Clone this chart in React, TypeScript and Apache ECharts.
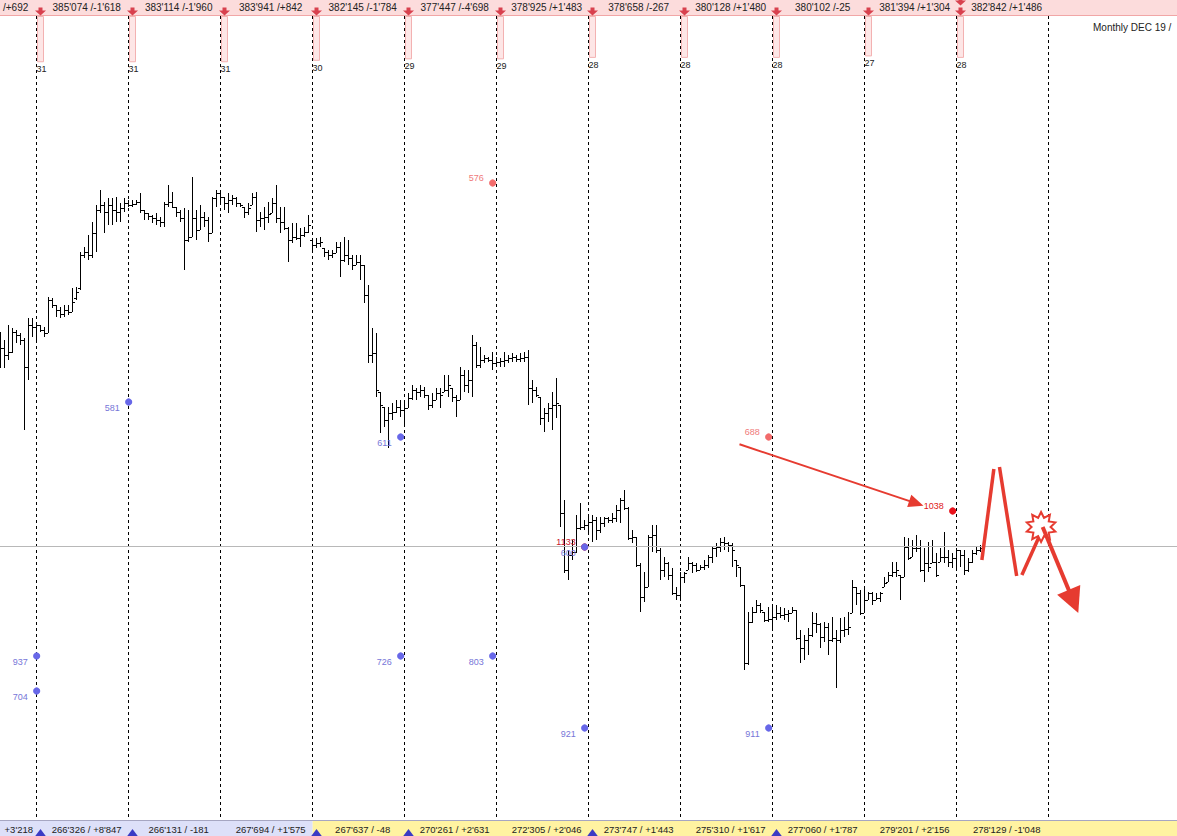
import React, { useEffect, useRef } from "react";
import * as echarts from "echarts";

// ---------- data ----------
// bar index of the first session of each month (last entry = boundary after last month)
const monthStart = [10, 33, 56, 79, 102, 125, 148, 171, 194, 217, 240, 263];
const monthDays = [31, 31, 31, 30, 29, 29, 28, 28, 28, 27, 28];
const monthMarkerCount = [1, 1, 1, 1, 1, 1, 1, 1, 1, 1, 2];
const topLead = "/+692";
const topLabels = [
  "385'074 /-1'618", "383'114 /-1'960", "383'941 /+842", "382'145 /-1'784",
  "377'447 /-4'698", "378'925 /+1'483", "378'658 /-267", "380'128 /+1'480",
  "380'102 /-25", "381'394 /+1'304", "382'842 /+1'486",
];
const bottomLead = "+3'218";
const bottomLabels = [
  "266'326 / +8'847", "266'131 / -181", "267'694 / +1'575", "267'637 / -48",
  "270'261 / +2'631", "272'305 / +2'046", "273'747 / +1'443", "275'310 / +1'617",
  "277'060 / +1'787", "279'201 / +2'156", "278'129 / -1'048",
];
const bottomTriangleMonths = [0, 1, 3, 4, 6, 8];
const yellowFromMonth = 3;
const lastPrice = 453.5;
const titleText = "Monthly DEC 19 /";

// daily bars: [open, high, low, close]
const ohlc = [
  [645,668,632,652],[652,660,632,645],[645,675,640,648],[648,672,647,668],[668,670,657,665],[665,667,655,660],
  [660,662,570,633],[633,682,620,675],[675,682,663,673],[673,677,658,675],[675,675,668,670],[670,673,663,667],
  [667,703,667,700],[700,702,692,695],[695,695,683,690],[690,693,682,686],[686,695,683,690],[690,695,685,688],
  [688,712,688,698],[702,713,700,708],[712,748,710,745],[745,753,742,748],[748,765,740,745],[745,778,742,767],
  [767,795,748,790],[790,810,787,795],[795,798,767,788],[788,802,775,795],[795,802,775,790],[790,803,778,788],
  [788,797,778,792],[792,802,788,797],[797,800,793,795],[795,800,793,796],[796,800,795,798],[798,807,787,790],
  [790,790,780,787],[787,787,780,784],[784,785,777,782],[782,787,775,780],[780,783,773,778],[778,798,773,796],
  [796,815,793,798],[798,808,792,793],[793,793,783,788],[788,790,778,782],[782,792,730,760],[760,790,758,763],
  [763,823,763,782],[782,790,760,770],[770,795,770,783],[783,788,773,780],[780,783,758,767],[767,803,767,802],
  [802,810,793,807],[807,808,795,803],[803,803,790,797],[797,807,787,800],[800,805,795,802],[802,803,793,797],
  [797,797,793,795],[793,793,782,788],[788,797,785,792],[795,807,795,803],[803,808,768,780],[780,788,773,782],
  [782,793,770,783],[783,798,777,786],[787,802,787,797],[797,815,777,782],[782,793,767,778],[778,793,770,772],
  [772,773,738,760],[760,777,757,763],[763,777,760,762],[762,772,753,765],[765,773,763,768],[768,785,767,775],
  [760,760,748,755],[755,762,752,757],[757,763,753,758],[752,752,743,748],[748,750,740,745],[745,750,742,747],
  [747,758,747,753],[753,758,723,740],[740,763,738,745],[745,760,735,742],[742,745,730,735],[735,745,735,738],
  [738,745,720,735],[735,735,697,705],[705,715,637,645],[645,672,637,647],[647,667,603,610],[608,608,567,595],
  [593,593,573,580],[580,593,552,587],[587,597,580,588],[588,600,587,593],[593,600,583,590],[590,597,575,592],
  [592,607,592,602],[602,615,600,610],[610,612,600,608],[608,615,603,610],[610,613,602,605],[605,605,590,595],
  [595,607,592,600],[600,612,600,607],[607,612,592,605],[608,625,608,610],[610,625,603,615],[612,612,598,603],
  [603,605,583,600],[600,633,600,625],[625,630,608,615],[615,630,607,620],[620,665,603,655],[655,658,632,635],
  [635,653,632,640],[640,645,637,642],[642,643,638,640],[640,648,630,637],[637,643,633,638],[638,642,633,639],
  [639,648,633,640],[640,645,637,642],[642,647,638,643],[643,645,638,641],[641,647,638,642],[642,648,638,643],
  [643,650,595,612],[612,620,597,610],[610,613,603,605],[603,603,575,582],[582,592,568,587],[587,597,578,592],
  [592,608,570,595],[595,622,582,597],[595,595,473,487],[487,500,427,430],[430,450,420,445],[445,460,440,448],
  [448,485,447,472],[472,497,470,473],[473,480,470,475],[475,483,467,478],[478,485,458,480],[480,483,460,470],
  [470,483,467,477],[477,483,473,482],[482,483,477,480],[480,487,477,482],[482,495,478,490],[490,502,477,500],
  [500,510,490,492],[492,493,460,462],[462,470,457,463],[463,463,433,435],[435,437,388,403],[403,428,398,413],
  [413,465,413,463],[463,475,448,465],[465,475,447,450],[450,452,420,430],[430,443,423,437],[437,438,420,425],
  [425,432,405,407],[407,413,400,405],[405,428,402,423],[423,428,417,427],[430,443,430,437],[437,438,427,435],
  [435,437,428,430],[430,435,430,433],[433,440,430,435],[435,445,432,443],[443,453,437,452],[452,457,443,453],
  [453,462,448,458],[458,463,450,457],[457,458,448,455],[455,457,433,450],[440,440,423,435],[433,433,413,415],
  [415,415,330,337],[337,388,335,378],[378,393,377,388],[388,400,387,395],[395,397,387,390],[388,388,378,380],
  [380,393,378,381],[381,395,370,383],[383,395,380,387],[387,393,382,385],[385,392,380,386],[386,390,378,387],
  [387,393,387,390],[390,390,360,362],[362,370,337,352],[352,365,340,360],[360,372,345,365],[365,388,363,377],
  [377,387,367,376],[376,377,352,363],[363,378,358,373],[373,377,345,360],[360,383,358,362],[362,370,312,360],
  [360,382,357,370],[370,383,363,371],[371,388,365,373],[387,420,387,413],[413,413,395,407],[407,410,385,387],
  [387,413,387,400],[400,408,400,407],[407,408,395,400],[400,407,400,402],[402,408,398,407],[413,423,413,417],
  [418,428,418,425],[425,438,423,428],[428,438,423,430],[425,425,400,423],[423,463,423,453],[453,462,440,442],
  [443,460,443,452],[452,465,448,452],[452,460,428,430],[430,452,418,437],[437,458,428,433],[437,460,437,438],
  [438,447,423,425],[438,452,438,443],[443,468,437,443],[443,450,433,438],[438,447,432,442],[442,452,432,450],
  [450,450,433,445],[445,450,425,430],[430,442,428,438],[438,450,437,447],[447,453,445,450],[450,455,448,452],
];

// indicator dots
const dotBars = [9, 9, 32, 100, 100, 123, 123, 146, 146, 146, 192, 192, 238];
const dotValues = [344, 309, 598, 563, 344, 817, 344, 453, 453, 272, 563, 272, 489];
const dotLabels = ["937", "704", "581", "611", "726", "576", "803", "1133", "600", "921", "688", "911", "1038"];
const dotKinds = ["low", "low", "low", "low", "low", "high", "low", "top", "low", "low", "high", "low", "top2"];

// hand-drawn annotations, in [bar index, price]
const trendArrow = [[184.7, 555.7], [230.7, 494.3]];
const zigzagStrokes = [
  [[245.3, 440], [248.3, 531]],
  [[249.7, 533], [254.0, 424]],
  [[255.3, 425], [259.8, 465]],
];
const burstCenter = [260.1, 473];
const projectionArrow = [[260.5, 473], [269.4, 387]];

// ---------- styles ----------
const FONT = '9.5px "Liberation Sans", Arial, sans-serif';
const FONT_TOP = '10px "Liberation Sans", Arial, sans-serif';
const FONT_S = '9px "Liberation Sans", Arial, sans-serif';
const RED = "#e63b30";
const DOT_STYLE: any = {
  low: { dot: "#6767e8", text: "#7676d8", above: false },
  high: { dot: "#f26b6b", text: "#f07a7a", above: true },
  top: { dot: "#e0101a", text: "#c8142a", above: true },
  top2: { dot: "#e8101a", text: "#e01818", above: true },
};

function arrowShapes(a: number[], b: number[], headLen: number, halfW: number, width: number, color: string) {
  const dx = b[0] - a[0];
  const dy = b[1] - a[1];
  const L = Math.hypot(dx, dy);
  const ux = dx / L;
  const uy = dy / L;
  const bx = b[0] - ux * headLen;
  const by = b[1] - uy * headLen;
  return [
    { type: "line", shape: { x1: a[0], y1: a[1], x2: bx + ux * 2, y2: by + uy * 2 }, style: { stroke: color, lineWidth: width } },
    {
      type: "polygon",
      shape: { points: [[b[0], b[1]], [bx - uy * halfW, by + ux * halfW], [bx + uy * halfW, by - ux * halfW]] },
      style: { fill: color },
    },
  ];
}

export default function App() {
  const ref = useRef<HTMLDivElement>(null);

  useEffect(() => {
    document.body.style.margin = "0";
    const chart = echarts.init(ref.current as HTMLDivElement, null, { renderer: "svg" });

    const ohlcSeries = {
      type: "custom",
      z: 3,
      silent: true,
      encode: { x: 0, y: [1, 2, 3, 4] },
      data: ohlc.map((d, i) => [i, d[0], d[1], d[2], d[3]]),
      renderItem: (params: any, api: any) => {
        const i = api.value(0);
        const xc = api.coord([i, api.value(2)])[0];
        const yh = api.coord([i, api.value(2)])[1];
        const yl = api.coord([i, api.value(3)])[1];
        const yo = Math.floor(api.coord([i, api.value(1)])[1]) + 0.5;
        const yc = Math.floor(api.coord([i, api.value(4)])[1]) + 0.5;
        const x = Math.floor(xc) + 0.5;
        const st = { stroke: "#000", lineWidth: 1 };
        return {
          type: "group",
          children: [
            { type: "line", shape: { x1: x, y1: yh, x2: x, y2: yl }, style: st },
            { type: "line", shape: { x1: x - 2.5, y1: yo, x2: x - 0.5, y2: yo }, style: st },
            { type: "line", shape: { x1: x + 0.5, y1: yc, x2: x + 2.5, y2: yc }, style: st },
          ],
        };
      },
      markLine: {
        silent: true,
        symbol: "none",
        label: { show: false },
        lineStyle: { color: "#b8b8b8", type: "solid", width: 1 },
        data: [{ yAxis: lastPrice }],
      },
    };

    const monthLineSeries = {
      type: "custom",
      z: 2,
      silent: true,
      data: monthStart.map((m) => [m - 1, 500]),
      renderItem: (params: any, api: any) => {
        const cs = params.coordSys;
        const x = Math.floor(api.coord([api.value(0), 0])[0]) + 0.5;
        return {
          type: "line",
          shape: { x1: x, y1: cs.y + 16, x2: x, y2: cs.y + cs.height - 16 },
          style: { stroke: "#000", lineWidth: 1, lineDash: [3, 3] },
        };
      },
    };

    const topStripSeries = {
      type: "custom",
      z: 4,
      silent: true,
      data: [[0, 500]],
      renderItem: (params: any, api: any) => {
        const cs = params.coordSys;
        const children: any[] = [];
        const leadX = api.coord([monthStart[0] - 3.1, 0])[0];
        children.push({
          type: "text", x: leadX, y: cs.y + 7,
          style: { text: topLead, fill: "#222", font: FONT_TOP, align: "right", verticalAlign: "middle" },
        });
        topLabels.forEach((lab, k) => {
          const mx = Math.floor(api.coord([monthStart[k], 0])[0]) + 0.5;
          const cx = api.coord([(monthStart[k] + monthStart[k + 1]) / 2, 0])[0];
          children.push({
            type: "text", x: cx, y: cs.y + 7,
            style: { text: lab, fill: "#222", font: FONT_TOP, align: "center", verticalAlign: "middle" },
          });
          const h = monthDays[k] * 1.46;
          children.push({
            type: "rect",
            shape: { x: mx - 3, y: cs.y + 16.5, width: 6, height: h },
            style: { fill: "#fde6e6", stroke: "#f3b2b2", lineWidth: 1 },
          });
          children.push({
            type: "text", x: mx + 1, y: cs.y + 16 + h + 8,
            style: { text: String(monthDays[k]), fill: "#222", font: FONT_S, align: "center", verticalAlign: "middle" },
          });
          for (let j = 0; j < monthMarkerCount[k]; j++) {
            const y0 = cs.y + 7.5 - j * 10;
            children.push({
              type: "polygon",
              shape: {
                points: [[mx - 2, y0], [mx + 2, y0], [mx + 2, y0 + 3], [mx + 5.5, y0 + 3], [mx, y0 + 8], [mx - 5.5, y0 + 3], [mx - 2, y0 + 3]],
              },
              style: { fill: "#d8414e" },
            });
          }
        });
        return { type: "group", children };
      },
    };

    const bottomStripSeries = {
      type: "custom",
      z: 4,
      silent: true,
      data: [[0, 500]],
      renderItem: (params: any, api: any) => {
        const cs = params.coordSys;
        const top = cs.y + cs.height - 15;
        const split = api.coord([monthStart[yellowFromMonth] - 1, 0])[0];
        const children: any[] = [
          { type: "rect", shape: { x: cs.x, y: top, width: split - cs.x, height: 15 }, style: { fill: "#dde0f9" } },
          { type: "rect", shape: { x: split, y: top, width: cs.x + cs.width - split, height: 15 }, style: { fill: "#fff3a1" } },
          { type: "line", shape: { x1: cs.x, y1: top - 0.5, x2: cs.x + cs.width, y2: top - 0.5 }, style: { stroke: "#a6a6c2", lineWidth: 1 } },
        ];
        const ty = top + 8.5;
        children.push({
          type: "text", x: api.coord([monthStart[0] - 1.9, 0])[0], y: ty,
          style: { text: bottomLead, fill: "#222", font: FONT, align: "right", verticalAlign: "middle" },
        });
        bottomLabels.forEach((lab, k) => {
          const cx = api.coord([(monthStart[k] + monthStart[k + 1]) / 2, 0])[0];
          children.push({
            type: "text", x: cx, y: ty,
            style: { text: lab, fill: "#222", font: FONT, align: "center", verticalAlign: "middle" },
          });
        });
        bottomTriangleMonths.forEach((k) => {
          const mx = Math.floor(api.coord([monthStart[k], 0])[0]) + 0.5;
          const yb = cs.y + cs.height;
          children.push({
            type: "polygon",
            shape: { points: [[mx, yb - 7], [mx + 6, yb + 1], [mx - 6, yb + 1]] },
            style: { fill: "#3b3bc4" },
          });
        });
        return { type: "group", children };
      },
    };

    const dotSeries = {
      type: "custom",
      z: 5,
      silent: true,
      encode: { x: 0, y: 1 },
      data: dotBars.map((b, k) => [b, dotValues[k]]),
      renderItem: (params: any, api: any) => {
        const k = params.dataIndex;
        const p = api.coord([api.value(0), api.value(1)]);
        const s = DOT_STYLE[dotKinds[k]];
        return {
          type: "group",
          children: [
            { type: "circle", shape: { cx: p[0], cy: p[1], r: 3.6 }, style: { fill: s.dot } },
            {
              type: "text", x: p[0] - 9, y: p[1] + (s.above ? -5 : 6),
              style: { text: dotLabels[k], fill: s.text, font: FONT_S, align: "right", verticalAlign: "middle" },
            },
          ],
        };
      },
    };

    const annotationSeries = {
      type: "custom",
      z: 6,
      silent: true,
      data: [[0, 500]],
      renderItem: (params: any, api: any) => {
        const P = (q: number[]) => api.coord(q);
        const ch: any[] = [];
        ch.push(...arrowShapes(P(trendArrow[0]), P(trendArrow[1]), 15, 6.5, 2, RED));
        zigzagStrokes.forEach((seg) => {
          const a = P(seg[0]);
          const b = P(seg[1]);
          ch.push({ type: "line", shape: { x1: a[0], y1: a[1], x2: b[0], y2: b[1] }, style: { stroke: RED, lineWidth: 3.5 } });
        });
        const c = P(burstCenter);
        const pts: number[][] = [];
        const n = 10;
        for (let k = 0; k < n * 2; k++) {
          const r = k % 2 === 0 ? 15 : 9.5;
          const ang = -Math.PI / 2 + (k * Math.PI) / n;
          pts.push([c[0] + r * Math.cos(ang), c[1] + r * Math.sin(ang)]);
        }
        ch.push({ type: "polygon", shape: { points: pts }, style: { fill: "#fff", stroke: RED, lineWidth: 2 } });
        ch.push(...arrowShapes(P(projectionArrow[0]), P(projectionArrow[1]), 25, 12.5, 4, RED));
        return { type: "group", children: ch };
      },
    };

    chart.setOption({
      animation: false,
      backgroundColor: "#ffffff",
      grid: { left: 0, right: 0, top: 0, bottom: 0, containLabel: false },
      xAxis: { type: "value", min: -0.1675, max: 294.0825, show: false, splitLine: { show: false } },
      yAxis: { type: "value", min: 164, max: 1000, show: false, splitLine: { show: false } },
      graphic: [
        { type: "rect", left: 0, top: 0, shape: { width: 1177, height: 15 }, style: { fill: "#fcdcdc" }, z: 0 },
        { type: "line", shape: { x1: 0, y1: 15.5, x2: 1177, y2: 15.5 }, style: { stroke: "#f1a6a6", lineWidth: 1 }, z: 0 },
        {
          type: "text", left: 1093, top: 22, z: 10,
          style: { text: titleText, font: '10px "Liberation Sans", Arial, sans-serif', fill: "#222" },
        },
      ],
      series: [monthLineSeries, ohlcSeries, topStripSeries, bottomStripSeries, dotSeries, annotationSeries],
    });

    return () => {
      chart.dispose();
    };
  }, []);

  return <div ref={ref} style={{ width: 1177, height: 836 }} />;
}
